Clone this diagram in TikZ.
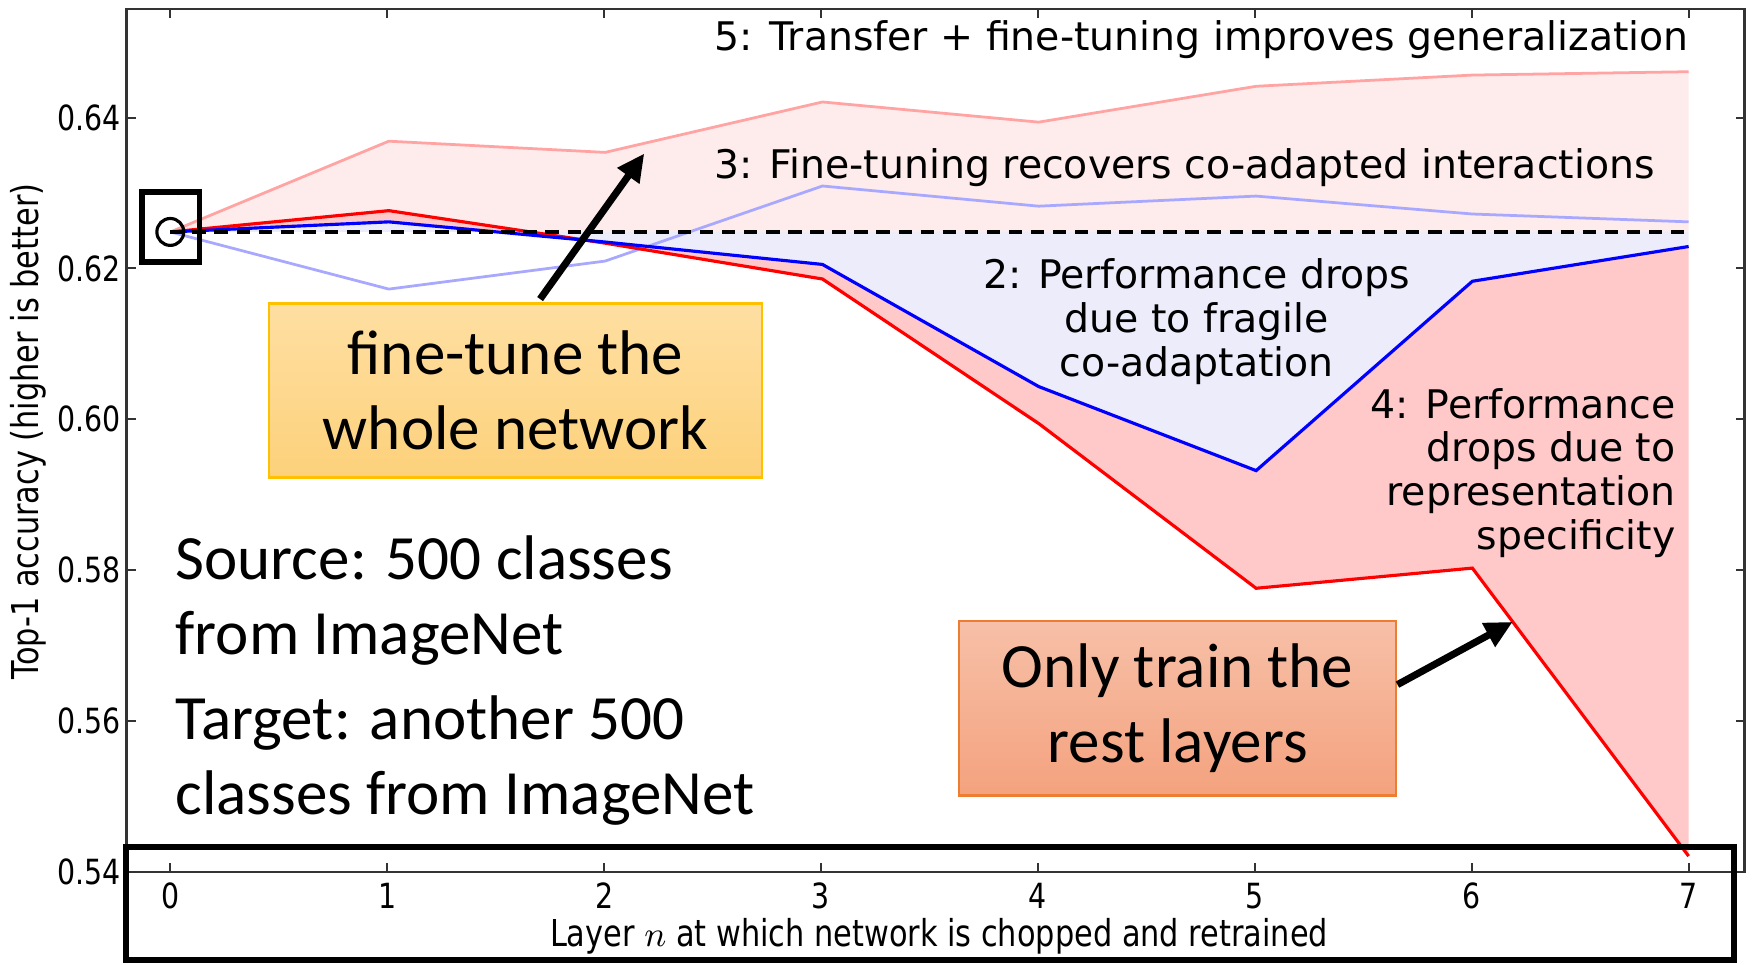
\documentclass[tikz,border=0pt]{standalone}
\usepackage{fontspec}
\setmainfont{Carlito}
\newfontfamily\plotfont{DejaVu Sans}
\newfontfamily\axisfont[FakeStretch=0.82]{DejaVu Sans}
\usetikzlibrary{arrows.meta}

\definecolor{boxyellowtop}{HTML}{FEDFA2}
\definecolor{boxyellowbot}{HTML}{FDD17B}
\definecolor{boxyellowline}{HTML}{FFC000}
\definecolor{boxsalmontop}{HTML}{F7C0A8}
\definecolor{boxsalmonbot}{HTML}{F4A27E}
\definecolor{boxsalmonline}{HTML}{ED7D31}
\definecolor{fillpink}{HTML}{FEEBEB}
\definecolor{filllav}{HTML}{ECECFB}
\definecolor{fillred}{HTML}{FFC9C9}
\definecolor{palered}{HTML}{FFA3A3}
\definecolor{paleblue}{HTML}{A8A8FF}

\tikzset{
  ticklabel/.style={font=\axisfont\fontsize{8.8}{9}\selectfont, inner sep=1pt},
  axislabel/.style={font=\axisfont\fontsize{9.4}{10}\selectfont, inner sep=0pt},
  notetext/.style={font=\plotfont\fontsize{10}{11.1}\selectfont, inner sep=0pt},
  bigtext/.style={font=\fontsize{16}{19}\selectfont, inner sep=0pt, align=left},
  labelbox/.style={line width=0.6pt, align=center, inner sep=0pt,
    font=\fontsize{16}{19}\selectfont},
  markbox/.style={draw, line width=1.5pt, inner sep=0pt},
  callout/.style={-{Triangle[length=7pt,width=6.5pt]}, line width=1.8pt}
}

\begin{document}
\begin{tikzpicture}[x=0.01cm, y=-0.01cm]
\useasboundingbox (0,0) rectangle (1568,861);

% filled areas
\fill[fillpink] (152,207) -- (347,126) -- (540,136) -- (734,91) -- (927,109)
  -- (1121,77) -- (1314,67) -- (1507,64) -- (1507,207) -- cycle;
\fill[filllav] (152,207) -- (347,198) -- (540,216) -- (734,236) -- (927,345)
  -- (1121,420) -- (1314,251) -- (1507,220) -- (1507,207) -- cycle;
\fill[fillred] (152,207) -- (347,188) -- (540,217) -- (734,249) -- (927,378)
  -- (1121,525) -- (1314,507) -- (1507,764)
  -- (1507,220) -- (1314,251) -- (1121,420) -- (927,345) -- (734,236)
  -- (540,216) -- (347,198) -- cycle;

% curves
\draw[palered, line width=0.7pt] (152,207) -- (347,126) -- (540,136) -- (734,91)
  -- (927,109) -- (1121,77) -- (1314,67) -- (1507,64);
\draw[paleblue, line width=0.7pt] (152,207) -- (347,258) -- (540,233) -- (734,166)
  -- (927,184) -- (1121,175) -- (1314,191) -- (1507,198);
\draw[red, line width=0.8pt] (152,207) -- (347,188) -- (540,217) -- (734,249)
  -- (927,378) -- (1121,525) -- (1314,507) -- (1507,764);
\draw[blue, line width=0.8pt] (152,207) -- (347,198) -- (540,216) -- (734,236)
  -- (927,345) -- (1121,420) -- (1314,251) -- (1507,220);
\draw[line width=0.9pt, dash pattern=on 3.4pt off 2.2pt] (152,207) -- (1507,207);
\draw[line width=0.8pt] (152,207) circle[radius=0.12cm];

% frame and ticks
\draw[line width=0.6pt, black!80] (113,8) rectangle (1557,778);
\foreach \i in {0,...,7} {
  \draw[line width=0.5pt, black!80] ({152+193.57*\i},778) -- ++(0,-8);
  \draw[line width=0.5pt, black!80] ({152+193.57*\i},8) -- ++(0,8);
  \node[ticklabel, anchor=north] (xt\i) at ({152+193.57*\i},784) {\i};
}
\foreach \v [count=\k from 0] in {0.64,0.62,0.60,0.58,0.56,0.54} {
  \draw[line width=0.5pt, black!80] (113,{105+134.6*\k}) -- ++(8,0);
  \draw[line width=0.5pt, black!80] (1557,{105+134.6*\k}) -- ++(-8,0);
  \node[ticklabel, anchor=east] (yt\k) at (112,{105+134.6*\k}) {\v};
}
\node[axislabel, rotate=90] (ylabel) at (25,385) {Top-1 accuracy (higher is better)};
\node[axislabel] (xlabel) at (838,836) {Layer $n$ at which network is chopped and retrained};

% notes on the plot
\node[notetext, anchor=west] (note5) at (637,35) {5: Transfer + fine-tuning improves generalization};
\node[notetext, anchor=west] (note3) at (637,150) {3: Fine-tuning recovers co-adapted interactions};
\node[notetext, align=center] (note2) at (1068,287) {2: Performance drops\\due to fragile\\co-adaptation};
\node[notetext, align=right, anchor=east] (note4) at (1496,422) {4: Performance\\drops due to\\representation\\specificity};

% call-out boxes
\node[labelbox, draw=boxyellowline, top color=boxyellowtop, bottom color=boxyellowbot,
  minimum width=4.4cm, minimum height=1.55cm] (finetune) at (460,348.5) {fine-tune the\\whole network};
\node[labelbox, draw=boxsalmonline, top color=boxsalmontop, bottom color=boxsalmonbot,
  minimum width=3.9cm, minimum height=1.56cm] (onlytrain) at (1051,632) {Only train the\\rest layers};
\coordinate (ftpoint) at (575,137);
\coordinate (otpoint) at (1350,555);
\draw[callout] ([xshift=0.22cm,yshift=0.03cm]finetune.north) -- (ftpoint);
\draw[callout] ([yshift=0.21cm]onlytrain.east) -- (otpoint);

\node[bigtext, anchor=west] (source) at (156,536) {Source: 500 classes\\from ImageNet};
\node[bigtext, anchor=west] (target) at (156,679) {Target: another 500\\classes from ImageNet};

% highlight marks
\node[markbox, minimum width=0.51cm, minimum height=0.63cm] (zeromark) at (152.5,202.5) {};
\node[markbox, minimum width=14.34cm, minimum height=1.01cm] (xaxismark) at (830,806.5) {};
\end{tikzpicture}
\end{document}
